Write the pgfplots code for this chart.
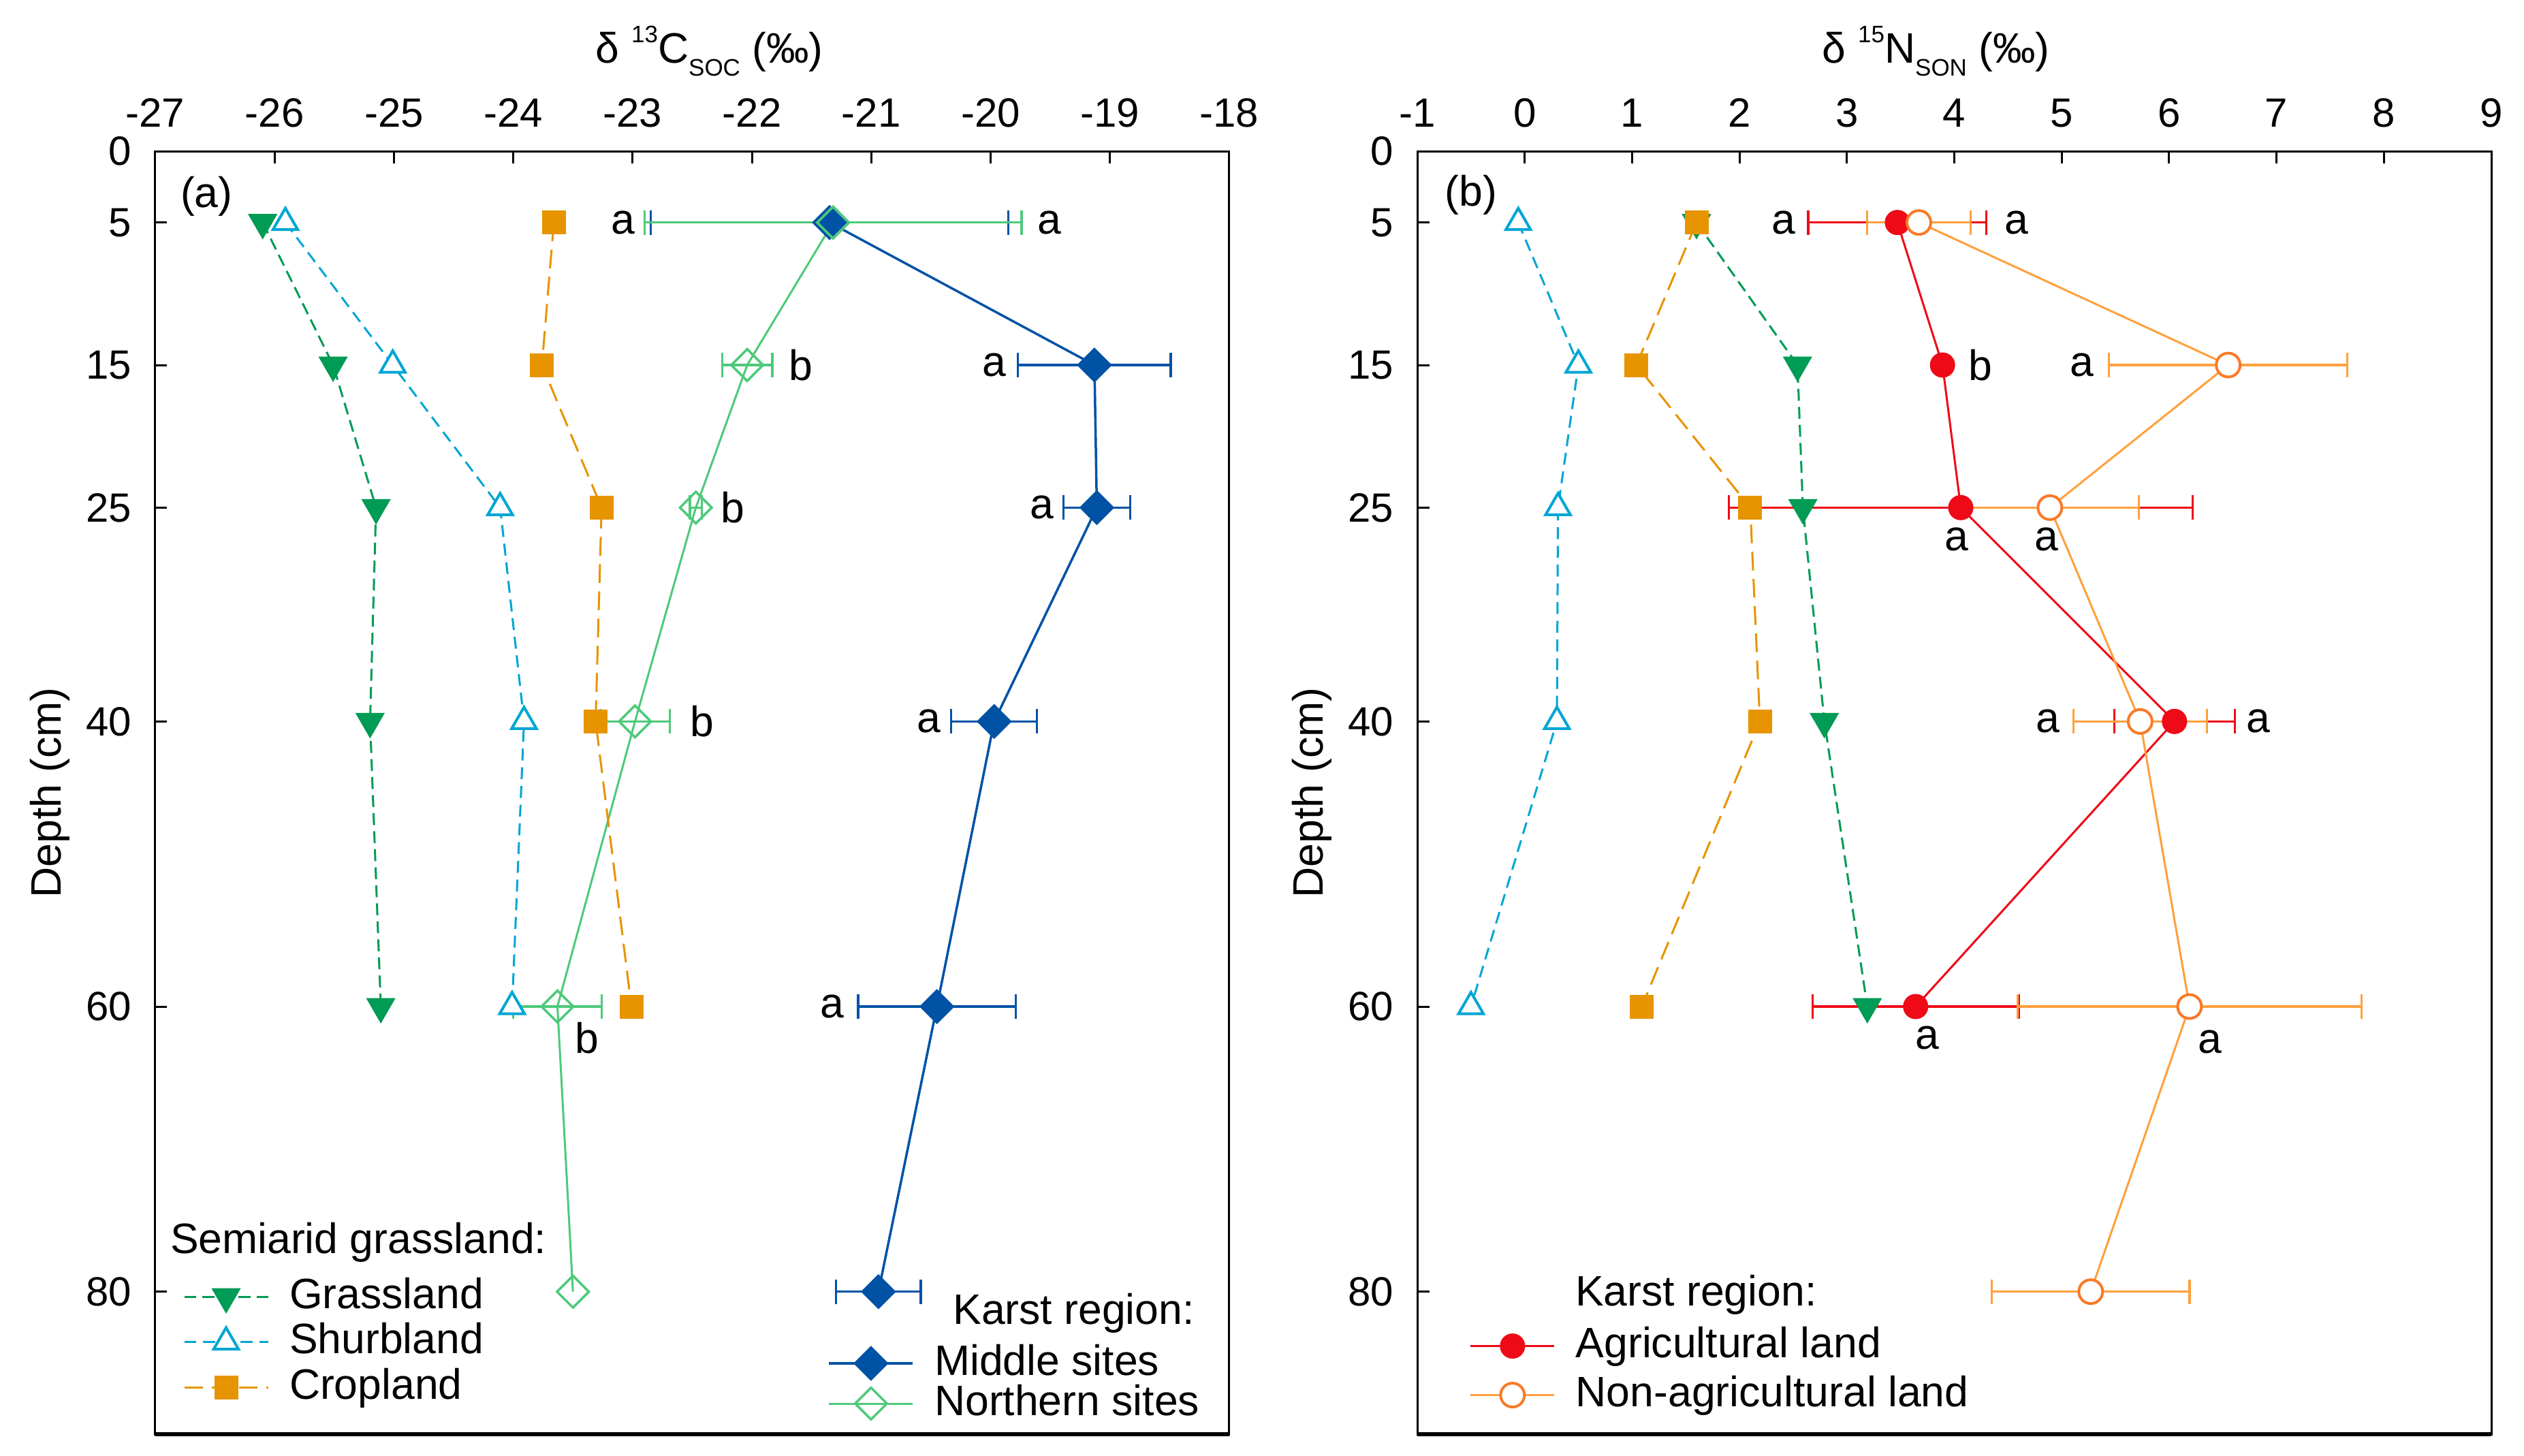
\documentclass[border=0pt]{standalone}
\usepackage{fontspec}
\setmainfont{Liberation Sans}
\usepackage{pgfplots}
\pgfplotsset{compat=1.18}

\definecolor{cGrass}{RGB}{0,155,85}
\definecolor{cShrub}{RGB}{0,166,212}
\definecolor{cCrop}{RGB}{230,148,0}
\definecolor{cMid}{RGB}{0,82,165}
\definecolor{cNorth}{RGB}{78,201,122}
\definecolor{cAgri}{RGB}{238,10,22}
\definecolor{cNonL}{RGB}{255,160,60}
\definecolor{cNonM}{RGB}{250,122,40}

\newcommand{\lab}{\fontsize{12.5}{15}\selectfont}

\pgfplotsset{
  panel/.style={
    scale only axis, width=315.4pt, height=376.8pt,
    ymin=0, ymax=90, y dir=reverse, clip=false,
  },
  frame/.style={
    axis line style={line width=0.6pt},
    tick style={line width=0.6pt, color=black},
    major tick length=3.5pt, tick align=inside,
    xtick pos=upper, xticklabel pos=upper, ytick pos=left,
    ytick={0,5,15,25,40,60,80},
    tick label style={font=\fontsize{12}{14}\selectfont},
    xticklabel style={yshift=3.5pt},
    yticklabel style={xshift=-3.4pt},
    /pgf/number format/assume math mode=true,
    ylabel={Depth (cm)},
    ylabel style={at={(axis description cs:-0.098,0.5)}, anchor=center, font=\lab},
  },
  leg/.style={
    legend cell align=left,
    legend image code/.code={\draw[mark repeat=2,mark phase=2] plot coordinates {(0pt,0pt)(12.3pt,0pt)(24.6pt,0pt)};},
    legend style={draw=none, fill=none, inner sep=0pt, outer sep=0pt,
      column sep=6pt, anchor=north west, font=\lab,
      nodes={inner sep=0pt, text height=9.5pt, text depth=2.7pt}},
  },
  grass/.style={color=cGrass, line width=0.6pt, dash pattern=on 3.5pt off 1.8pt,
    mark=triangle*, mark size=4.4pt, mark options={solid, rotate=180}},
  shrub/.style={color=cShrub, line width=0.6pt, dash pattern=on 3.5pt off 2pt,
    mark=triangle*, mark size=4.2pt, mark options={solid, fill=white, line width=0.8pt}},
  crop/.style={color=cCrop, line width=0.6pt, dash pattern=on 5.5pt off 2.5pt,
    mark=square*, mark size=3.2pt, mark options={solid}},
  middle/.style={color=cMid, line width=0.7pt,
    mark=square*, mark size=3.3pt, mark options={solid, rotate=45}},
  north/.style={color=cNorth, line width=0.6pt,
    mark=square, mark size=3.3pt, mark options={solid, rotate=45, line width=0.7pt}},
  agri/.style={color=cAgri, line width=0.6pt, mark=*, mark size=3.4pt, mark options={solid}},
  nonag/.style={color=cNonL, line width=0.6pt, mark=*, mark size=3.5pt,
    mark options={solid, draw=cNonM, fill=white, line width=0.8pt}},
  ebar/.style={error bars/x dir=both, error bars/x explicit,
    error bars/error bar style={line width=0.65pt, solid},
    error bars/error mark options={rotate=90, mark size=3.6pt, line width=0.65pt}},
  % error bars only (no line, no marks), drawn in colour #1
  ebaronly/.style={draw=none, mark=none,
    error bars/x dir=both, error bars/x explicit,
    error bars/error bar style={draw=#1, line width=0.65pt, solid},
    error bars/error mark options={rotate=90, mark size=3.6pt, line width=0.65pt, draw=#1}},
}

\begin{document}
\begin{tikzpicture}
% ---------------- panel (a) ----------------
\begin{axis}[panel, frame, leg,
  xmin=-27, xmax=-18, xtick={-27,-26,...,-18},
  legend style={at={(axis description cs:0.026,0.1234)}, row sep=1.1pt},
]
\addplot[middle, ebar, forget plot] table[x=x, y=d, x error=e] {
d x e
5 -21.35 1.50
15 -19.13 0.64
25 -19.11 0.28
40 -19.97 0.36
60 -20.45 0.66
80 -20.94 0.355
};
\addplot[ebaronly=cNorth, forget plot] table[x=x, y=d, x error=e] {
d x e
5 -21.32 1.58
15 -22.04 0.21
25 -22.47 0.05
40 -22.98 0.29
60 -23.63 0.37
};
\addplot[north, forget plot] table[x=x, y=d] {
d x
5 -21.32
15 -22.04
25 -22.47
40 -22.98
60 -23.63
80 -23.50
};
\addplot[grass, forget plot] table[x=x, y=d] {
d x
5 -26.10
15 -25.51
25 -25.15
40 -25.20
60 -25.11
};
\addplot[shrub, forget plot] table[x=x, y=d] {
d x
5 -25.91
15 -25.01
25 -24.11
40 -23.91
60 -24.01
};
\addplot[crop, forget plot] table[x=x, y=d] {
d x
5 -23.66
15 -23.76
25 -23.26
40 -23.31
60 -23.01
};
\addlegendimage{grass}\addlegendentry{Grassland}
\addlegendimage{shrub}\addlegendentry{Shurbland}
\addlegendimage{crop}\addlegendentry{Cropland}

\draw[line width=1.1pt] (axis description cs:0,0) -- (axis description cs:1,0);
\node[anchor=base, inner sep=0pt, font=\lab, yshift=26pt] at (axis description cs:0.516,1)
  {δ {\fontsize{7}{8}\selectfont\raisebox{5.9pt}{13}}C{\fontsize{7}{8}\selectfont\raisebox{-3.8pt}{SOC}} (‰)};
\node[font=\lab] at (axis cs:-26.57,3.15) {(a)};
\node[anchor=base west, inner sep=0pt, font=\lab] at (axis cs:-26.88,77.3) {Semiarid grassland:};
\node[anchor=base west, inner sep=0pt, font=\lab] at (axis cs:-20.32,82.3) {Karst region:};
\node[font=\lab] at (axis cs:-23.08,5) {a};
\node[font=\lab] at (axis cs:-19.51,5) {a};
\node[font=\lab] at (axis cs:-21.59,15) {b};
\node[font=\lab] at (axis cs:-19.97,15) {a};
\node[font=\lab] at (axis cs:-22.16,25) {b};
\node[font=\lab] at (axis cs:-19.57,25) {a};
\node[font=\lab] at (axis cs:-22.42,40) {b};
\node[font=\lab] at (axis cs:-20.52,40) {a};
\node[font=\lab] at (axis cs:-23.38,62.2) {b};
\node[font=\lab] at (axis cs:-21.33,60) {a};
\end{axis}

% second legend of panel (a)
\begin{axis}[panel, leg, hide axis,
  xmin=-27, xmax=-18,
  legend style={at={(axis description cs:0.6263,0.0714)}, row sep=-0.4pt},
]
\addlegendimage{middle}\addlegendentry{Middle sites}
\addlegendimage{north}\addlegendentry{Northern sites}
\end{axis}

% ---------------- panel (b) ----------------
\begin{axis}[panel, frame, leg, at={(370.6pt,0pt)},
  xmin=-1, xmax=9, xtick={-1,0,...,9},
  legend style={at={(axis description cs:0.0487,0.0849)}, row sep=2.2pt},
]
\addplot[ebaronly=cAgri, forget plot] table[x=x, y=d, x error=e] {
d x e
5 3.47 0.83
25 4.06 2.16
40 6.05 0.56
60 3.64 0.96
};
\addplot[agri, forget plot] table[x=x, y=d] {
d x
5 3.47
15 3.89
25 4.06
40 6.05
60 3.64
};
\addplot[nonag, ebar, forget plot] table[x=x, y=d, x error=e] {
d x e
5 3.67 0.48
15 6.55 1.11
25 4.89 0.83
40 5.73 0.62
60 6.19 1.60
80 5.27 0.92
};
\addplot[shrub, forget plot] table[x=x, y=d] {
d x
5 -0.06
15 0.50
25 0.31
40 0.30
60 -0.50
};
\addplot[grass, forget plot] table[x=x, y=d] {
d x
5 1.60
15 2.54
25 2.59
40 2.79
60 3.19
};
\addplot[crop, forget plot] table[x=x, y=d] {
d x
5 1.60
15 1.04
25 2.10
40 2.19
60 1.09
};
\addlegendimage{agri}\addlegendentry{Agricultural land}
\addlegendimage{nonag}\addlegendentry{Non-agricultural land}

\draw[line width=1.1pt] (axis description cs:0,0) -- (axis description cs:1,0);
\node[anchor=base, inner sep=0pt, font=\lab, yshift=26pt] at (axis description cs:0.483,1)
  {δ {\fontsize{7}{8}\selectfont\raisebox{5.9pt}{15}}N{\fontsize{7}{8}\selectfont\raisebox{-3.8pt}{SON}} (‰)};
\node[font=\lab] at (axis cs:-0.5,3.05) {(b)};
\node[anchor=base west, inner sep=0pt, font=\lab] at (axis cs:0.466,81.0) {Karst region:};
\node[font=\lab] at (axis cs:2.41,5) {a};
\node[font=\lab] at (axis cs:4.58,5) {a};
\node[font=\lab] at (axis cs:4.24,15) {b};
\node[font=\lab] at (axis cs:5.19,15) {a};
\node[font=\lab] at (axis cs:4.02,27.25) {a};
\node[font=\lab] at (axis cs:4.86,27.25) {a};
\node[font=\lab] at (axis cs:4.87,40) {a};
\node[font=\lab] at (axis cs:6.83,40) {a};
\node[font=\lab] at (axis cs:3.75,62.2) {a};
\node[font=\lab] at (axis cs:6.38,62.5) {a};
\end{axis}

\path (-45.6pt,-6.4pt) rectangle (695.6pt,421.2pt);
\end{tikzpicture}
\end{document}
